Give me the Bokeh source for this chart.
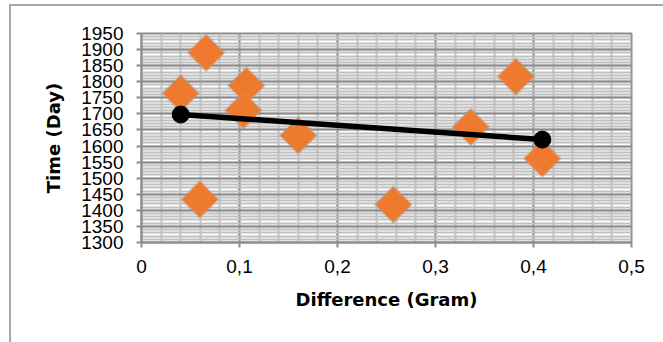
from bokeh.plotting import figure
from bokeh.models import SingleIntervalTicker, CustomJSTickFormatter, Range1d, InlineStyleSheet
from bokeh.embed import file_html
from bokeh.resources import INLINE
import math

# Data
diff_gram = [0.040, 0.066, 0.107, 0.104, 0.160, 0.0595, 0.257, 0.382, 0.336, 0.409]
time_day = [1764, 1890, 1788, 1711, 1633, 1434, 1418, 1816, 1659, 1561]
trend_x = [0.040, 0.409]
trend_y = [1698, 1620]

TICK_FONT = "Liberation Sans"
TITLE_FONT = "DejaVu Sans"

border_css = InlineStyleSheet(css="""
:host { position: relative; overflow: hidden; }
:host::after {
  content: ""; position: absolute; left: 9px; top: 4px; right: -20px; bottom: -20px;
  border: 2px solid #a6a6a6; pointer-events: none; z-index: 10;
}
""")

p = figure(width=663, height=342, output_backend="svg", toolbar_location=None,
           x_range=Range1d(0, 0.5), y_range=Range1d(1300, 1950),
           min_border_left=141, min_border_right=32, min_border_top=33, min_border_bottom=100,
           stylesheets=[border_css])
p.background_fill_color = "white"
p.border_fill_color = "white"
p.outline_line_color = "#8c8c8c"
p.outline_line_width = 2

p.xaxis.ticker = SingleIntervalTicker(interval=0.1, num_minor_ticks=5)
p.yaxis.ticker = SingleIntervalTicker(interval=50, num_minor_ticks=5)
p.xaxis.formatter = CustomJSTickFormatter(code="return tick < 1e-9 ? '0' : tick.toFixed(1).replace('.', ',');")

for g in (p.xgrid, p.ygrid):
    g.grid_line_color = "#8c8c8c"
    g.grid_line_width = 2
    g.minor_grid_line_color = "#c0c0c0"
    g.minor_grid_line_width = 2

for ax in (p.xaxis, p.yaxis):
    ax.axis_line_color = "#8c8c8c"
    ax.axis_line_width = 2
    ax.major_tick_line_color = "#8c8c8c"
    ax.major_tick_line_width = 2
    ax.major_tick_in = 0
    ax.major_tick_out = 5
    ax.minor_tick_line_color = None
    ax.major_label_text_font = TICK_FONT
    ax.major_label_text_font_size = "19px"
    ax.major_label_text_color = "black"
    ax.axis_label_text_font = TITLE_FONT
    ax.axis_label_text_font_size = "18px"
    ax.axis_label_text_font_style = "bold"
    ax.axis_label_text_color = "black"

p.xaxis.axis_label = "Difference (Gram)"
p.yaxis.axis_label = "Time (Day)"
p.xaxis.major_label_standoff = 12
p.yaxis.major_label_standoff = 13
p.xaxis.axis_label_standoff = 13
p.yaxis.axis_label_standoff = 14

# soft shadow
p.scatter(x=diff_gram, y=time_day, marker="square", angle=math.pi / 4, size=28,
          fill_color="#808080", fill_alpha=0.25, line_color=None)
p.scatter(x=diff_gram, y=time_day, marker="square", angle=math.pi / 4, size=25,
          fill_color="#EE7A2F", line_color="#F0893F", line_width=1)

p.line(x=trend_x, y=trend_y, line_color="black", line_width=5.5)
p.scatter(x=trend_x, y=trend_y, marker="circle", size=17, fill_color="black", line_color="black")

open("out.html", "w").write(file_html(p, INLINE))
